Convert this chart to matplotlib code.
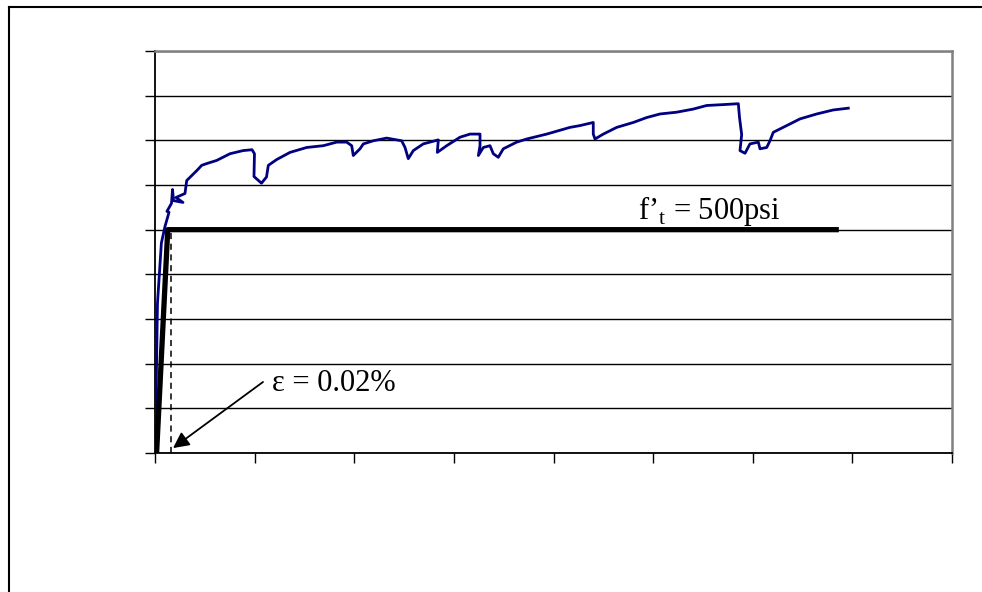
import matplotlib
matplotlib.use("Agg")
import matplotlib.pyplot as plt
import numpy as np

# Measured tensile response: strain (%) vs. stress (psi)
strain_pct = [0.0, 0.0013, 0.0031, 0.0080, 0.0125, 0.0176, 0.0150, 0.0207, 0.0220, 0.0232,
              0.0351, 0.0263, 0.0376, 0.0398, 0.0523, 0.0586, 0.0649, 0.0774, 0.0941, 0.1104,
              0.1217, 0.1248, 0.1242, 0.1336, 0.1399, 0.1422, 0.1527, 0.1694, 0.1903, 0.2112,
              0.2280, 0.2405, 0.2468, 0.2488, 0.2572, 0.2614, 0.2739, 0.2907, 0.3095, 0.3137,
              0.3178, 0.3241, 0.3366, 0.3555, 0.3542, 0.3660, 0.3827, 0.3952, 0.4078, 0.4078,
              0.4057, 0.4119, 0.4203, 0.4245, 0.4307, 0.4370, 0.4538, 0.4664, 0.4915, 0.5207,
              0.5332, 0.5499, 0.5499, 0.5521, 0.5625, 0.5793, 0.6001, 0.6169, 0.6336, 0.6546,
              0.6754, 0.6922, 0.7130, 0.7319, 0.7334, 0.7361, 0.7340, 0.7403, 0.7465, 0.7570,
              0.7591, 0.7675, 0.7716, 0.7758, 0.7926, 0.8093, 0.8302, 0.8510, 0.8699]
stress_psi = [0, 125, 335, 470, 507, 539, 541, 559, 590, 565,
              561, 572, 581, 610, 632, 644, 648, 655, 670, 677,
              679, 670, 619, 604, 618, 644, 657, 673, 684, 688,
              696, 696, 688, 666, 681, 692, 699, 705, 699, 684,
              659, 677, 692, 701, 673, 688, 707, 714, 714, 688,
              666, 684, 688, 670, 662, 681, 696, 703, 714, 729,
              733, 740, 714, 703, 714, 729, 740, 751, 759, 763,
              770, 778, 780, 782, 751, 713, 677, 671, 692, 696,
              681, 684, 699, 718, 733, 748, 759, 768, 772]

# Idealised bilinear model
model_strain = [0.002, 0.016, 0.858]
model_stress = [0, 500, 500]

cracking_strain = 0.02   # %
cracking_stress = 500    # psi

x_ticks = np.arange(0, 1.0001, 0.125)
y_ticks = np.arange(0, 901, 100)

fig = plt.figure(figsize=(9.82, 5.92), dpi=100)
ax = fig.add_axes([155 / 982, 1 - 453 / 592, (952 - 155) / 982, (453 - 51) / 592])

ax.set_xlim(0, 1.0)
ax.set_ylim(0, 900)
ax.set_xticks(x_ticks)
ax.set_yticks(y_ticks)
ax.set_xticklabels([])
ax.set_yticklabels([])
ax.tick_params(axis="both", direction="out", length=7, width=1.0, color="black")
ax.yaxis.grid(True, color="black", linewidth=1.0)
ax.set_axisbelow(True)

for side in ("left", "bottom"):
    ax.spines[side].set_color("black")
    ax.spines[side].set_linewidth(1.3)
for side in ("top", "right"):
    ax.spines[side].set_color("#808080")
    ax.spines[side].set_linewidth(1.8)

ax.plot(strain_pct, stress_psi, color="#000080", linewidth=2.0, zorder=3,
        solid_joinstyle="round")
ax.plot(model_strain, model_stress, color="black", linewidth=3.8, zorder=4,
        solid_capstyle="butt")
ax.plot([cracking_strain, cracking_strain], [0, cracking_stress], color="black",
        linewidth=1.1, linestyle=(0, (4, 3)), zorder=4)

serif = ["Liberation Serif", "DejaVu Serif"]
plt.rcParams["mathtext.fontset"] = "custom"
plt.rcParams["mathtext.rm"] = "Liberation Serif"

ax.text(0.606, 523, "f\u2019$_\\mathrm{t}$ = %dpsi" % cracking_stress,
        family=serif, fontsize=22, va="baseline", ha="left", zorder=5)
ax.text(0.1468, 139, "\u03b5 = %.2f%%" % cracking_strain,
        family=serif, fontsize=22, va="baseline", ha="left", zorder=5)
ax.annotate("", xy=(cracking_strain + 0.0026, 11), xytext=(0.1355, 159),
            arrowprops=dict(arrowstyle="-|>", color="black", lw=1.3,
                            mutation_scale=24, shrinkA=0, shrinkB=0),
            zorder=5)

# Outer chart frame
fig.add_artist(plt.Line2D([9 / 982, 1.0], [1 - 7 / 592, 1 - 7 / 592],
                          transform=fig.transFigure, color="black", linewidth=1.5))
fig.add_artist(plt.Line2D([9 / 982, 9 / 982], [0, 1 - 7 / 592],
                          transform=fig.transFigure, color="black", linewidth=1.5))

fig.savefig("out.png", dpi=100)
